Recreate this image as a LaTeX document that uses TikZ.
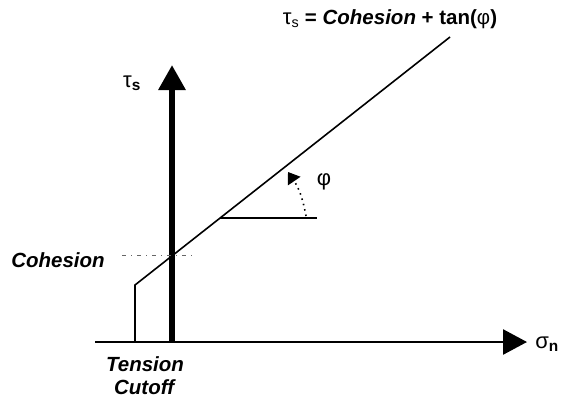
\documentclass[tikz,border=0pt]{standalone}
\usepackage{fontspec}
\setmainfont{Liberation Sans}
\usetikzlibrary{arrows.meta, positioning}

\begin{document}
\begin{tikzpicture}[
    x=1pt, y=-1pt,
    lbl/.style={font=\fontsize{20.5}{23}\selectfont\bfseries, inner sep=0pt},
    greek/.style={font=\fontsize{22}{24}\selectfont, inner sep=0pt},
    axis/.style={-{Triangle[length=24pt, width=25pt]}, line width=2.6pt},
    shear/.style={-{Triangle[length=25pt, width=26pt]}, line width=6pt},
    envelope/.style={line width=1.6pt, line join=miter},
    angle/.style={-{Triangle[length=11pt, width=15pt]}, line width=1.6pt,
                  dash pattern=on 1.5pt off 4pt},
    guide/.style={line width=0.8pt, gray!80!black, dash pattern=on 4pt off 5pt on 1pt off 5pt},
]
\useasboundingbox (0,0) rectangle (561,400);

% axes
\coordinate (origin) at (95,342);
\coordinate (xend) at (527,342);
\coordinate (ybase) at (172,342);
\coordinate (yend) at (172,65);
\draw[axis] (origin) -- (xend);
\draw[shear] (ybase) -- (yend);

% failure envelope with tension cutoff
\coordinate (cutbase) at (135,342);
\coordinate (cuttop) at (135,285);
\coordinate (envend) at (450,37);
\draw[envelope] (cutbase) -- (cuttop) -- (envend);

% friction angle
\coordinate (refstart) at (220,218);
\coordinate (refend) at (317,218);
\draw[envelope] (refstart) -- (refend);
\coordinate (arcstart) at (306,216);
\coordinate (arcend) at (288,172);
\draw[angle] (arcstart) to[bend right=12] (arcend);

% cohesion guide
\coordinate (cohleft) at (122,255);
\coordinate (cohright) at (194,255);
\draw[guide] (cohleft) -- (cohright);

% labels
\node[lbl, anchor=center] (law) at (390,19)
    {{\mdseries\fontsize{22}{24}\selectfont τ}\textsubscript{\mdseries s} = \textit{Cohesion} + tan({\mdseries φ})};
\node[greek] (taus) at (132,83) {τ\textsubscript{\bfseries s}};
\node[greek] (sign) at (547,344) {σ\textsubscript{\bfseries n}};
\node[greek] (phi) at (324,182) {φ};
\node[lbl] (coh) at (58,260) {\textit{Cohesion}};
\node[lbl, align=center] (tens) at (145,376) {\textit{Tension}\\[0pt]\textit{Cutoff}};
\end{tikzpicture}
\end{document}
